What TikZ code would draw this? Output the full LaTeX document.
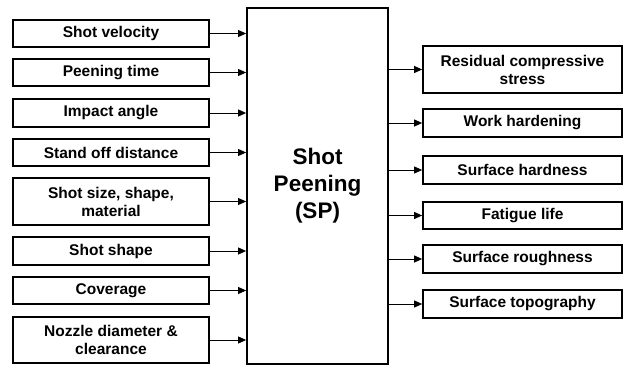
\documentclass[tikz,border=0pt]{standalone}
\usepackage{fontspec}
\setmainfont{Liberation Sans}
\usetikzlibrary{arrows.meta}
\begin{document}
\begin{tikzpicture}[x=1pt,y=-1pt,
  inbox/.style={draw, line width=1.7pt, minimum width=196pt, inner sep=0pt, align=center,
     font=\fontsize{15.5}{18}\selectfont\bfseries},
  outbox/.style={draw, line width=1.7pt, minimum width=199pt, inner sep=0pt, align=center,
     font=\fontsize{15.5}{18}\selectfont\bfseries},
  arr/.style={line width=0.9pt, -{Triangle[length=8pt,width=7pt]}}]
\useasboundingbox (0,0) rectangle (624,365);
% main box
\node[draw, line width=1.8pt, minimum width=141pt, minimum height=356pt, inner sep=0pt,
  align=center, font=\fontsize{22.5}{27}\selectfont\bfseries] (sp) at (317.5,186) {Shot\\Peening\\(SP)};
% inputs
\node[inbox, minimum height=27pt] (i1) at (111,33.5) {Shot velocity};
\node[inbox, minimum height=27pt] (i2) at (111,72.5) {Peening time};
\node[inbox, minimum height=28pt] (i3) at (111,113) {Impact angle};
\node[inbox, minimum height=27pt] (i4) at (111,152.5) {Stand off distance};
\node[inbox, minimum height=47pt] (i5) at (111,201.5) {Shot size, shape,\\material};
\node[inbox, minimum height=28pt] (i6) at (111,251) {Shot shape};
\node[inbox, minimum height=27pt] (i7) at (111,290.5) {Coverage};
\node[inbox, minimum height=46pt] (i8) at (111,340) {Nozzle diameter \&\\clearance};
\foreach \n in {i1,i2,i3,i4,i5,i6,i7,i8}
  \draw[arr] (\n.east) -- (\n.east -| sp.west);
% outputs
\node[outbox, minimum height=47pt] (o1) at (522.5,69.5) {Residual compressive\\stress};
\node[outbox, minimum height=28pt] (o2) at (522.5,123) {Work hardening};
\node[outbox, minimum height=28pt] (o3) at (522.5,170) {Surface hardness};
\node[outbox, minimum height=27pt] (o4) at (522.5,215.5) {Fatigue life};
\node[outbox, minimum height=28pt] (o5) at (522.5,259) {Surface roughness};
\node[outbox, minimum height=28pt] (o6) at (522.5,304) {Surface topography};
\foreach \n in {o1,o2,o3,o4,o5,o6}
  \draw[arr] (\n.west -| sp.east) -- (\n.west);
\end{tikzpicture}
\end{document}
